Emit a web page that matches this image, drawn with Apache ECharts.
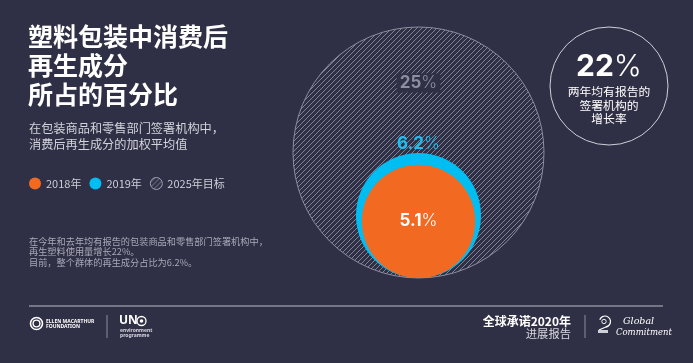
<!DOCTYPE html>
<html><head><meta charset="utf-8">
<script src="https://cdn.jsdelivr.net/npm/echarts@6/dist/echarts.min.js"></script>
<style>html,body{margin:0;padding:0;background:#2f2f45;}#c{width:693px;height:363px;}</style>
</head><body><div id="c"></div>
<script>
// ---- data ----
const seriesNames = ['2025年目标', '2019年', '2018年'];
const seriesValues = [25, 6.2, 5.1];
const legendNames = ['2018年', '2019年', '2025年目标'];
const growthValue = '22';
const growthText = '两年均有报告的\n签署机构的\n增长率';
const titleText = '塑料包装中消费后\n再生成分\n所占的百分比';
const subtitleText = '在包装商品和零售部门签署机构中，\n消费后再生成分的加权平均值';
const noteText = '在今年和去年均有报告的包装商品和零售部门签署机构中，\n再生塑料使用量增长22%。\n目前，整个群体的再生成分占比为6.2%。';

// ---- styles ----
const BG = '#2f2f45';
const CJK = '"Noto Sans CJK SC", "Noto Sans", sans-serif';
const NUM = 'Inter, Lato, "Noto Sans", sans-serif';

const pc = document.createElement('canvas');
pc.width = 5; pc.height = 5;
const g = pc.getContext('2d');
g.strokeStyle = 'rgba(150,150,172,0.8)';
g.lineWidth = 1;
g.beginPath();
g.moveTo(0, 5); g.lineTo(5, 0);
g.moveTo(-1, 1); g.lineTo(1, -1);
g.moveTo(4, 6); g.lineTo(6, 4);
g.stroke();
const hatch = { image: pc, repeat: 'repeat' };

const fills = [hatch, '#00bdf2', '#f26a22'];
const strokes = ['#8d8d9e', null, null];
const labelColors = ['#8e8e9f', '#1cc0f0', '#ffffff'];

function labelRich(v, color) {
  return {
    text: '{a|' + v + '}{b|%}',
    rich: {
      a: { fontFamily: NUM, fontWeight: 'bold', fontSize: 17, fill: color, color: color },
      b: { fontFamily: NUM, fontWeight: 300, fontSize: 17, fill: color, color: color }
    }
  };
}

const R_MAX = seriesValues[0];
function makeSeries(i) {
  return {
    type: 'custom',
    name: seriesNames[i],
    coordinateSystem: 'cartesian2d',
    itemStyle: { color: fills[i], borderColor: strokes[i] || fills[i], borderWidth: strokes[i] ? 1 : 0 },
    data: [[0, seriesValues[i]]],
    z: 2 + i,
    renderItem: function (params, api) {
      const v = api.value(1);
      const rr = Math.sqrt(v / R_MAX);
      const c = api.coord([0, rr]);
      const r = api.size([rr, rr])[0];
      let ly;
      if (i === 0) ly = c[1] - r * 0.554;
      else if (i === 1) ly = c[1] - r - 9;
      else ly = c[1];
      const lr = labelRich(v, labelColors[i]);
      const textStyle = Object.assign({
        x: c[0], y: ly, align: 'center', verticalAlign: 'middle'
      }, lr);
      if (i === 0) { textStyle.backgroundColor = BG; textStyle.padding = [1, 3]; }
      return {
        type: 'group',
        children: [
          {
            type: 'circle',
            shape: { cx: c[0], cy: c[1], r: r },
            style: strokes[i] ? { fill: fills[i], stroke: strokes[i], lineWidth: 1 } : { fill: fills[i] }
          },
          { type: 'text', style: textStyle, z2: 10 }
        ]
      };
    }
  };
}

const chart = echarts.init(document.getElementById('c'));
chart.setOption({
  backgroundColor: BG,
  animation: false,
  title: [
    { text: titleText, left: 28, top: 22, padding: 0,
      textStyle: { color: '#ffffff', fontSize: 25, fontWeight: 'bold', lineHeight: 29, fontFamily: CJK } },
    { text: subtitleText, left: 29, top: 120, padding: 0,
      textStyle: { color: '#d4d4dd', fontSize: 12.2, fontWeight: 'normal', lineHeight: 16, fontFamily: CJK } },
    { text: noteText, left: 29, top: 236, padding: 0,
      textStyle: { color: '#a9a9b8', fontSize: 9.2, fontWeight: 'normal', lineHeight: 10.5, fontFamily: CJK } }
  ],
  legend: {
    data: [
      { name: legendNames[0], icon: 'circle' },
      { name: legendNames[1], icon: 'circle' },
      { name: legendNames[2], icon: 'circle', itemStyle: { color: hatch, borderColor: '#a0a0b2', borderWidth: 1 } }
    ],
    left: 29, top: 177, padding: 0,
    itemWidth: 12, itemHeight: 12, itemGap: 8,
    selectedMode: false,
    textStyle: { color: '#cfcfd8', fontSize: 11, fontFamily: CJK }
  },
  grid: { left: 293, top: 27, width: 251, height: 251 },
  xAxis: { type: 'value', min: -1, max: 1, show: false },
  yAxis: { type: 'value', min: 0, max: 2, show: false },
  series: [makeSeries(0), makeSeries(1), makeSeries(2)],
  graphic: [
    { type: 'circle', shape: { cx: 609, cy: 86, r: 59 }, style: { fill: null, stroke: '#d0d0da', lineWidth: 1 } },
    { type: 'text', style: {
        x: 609, y: 67, align: 'center', verticalAlign: 'middle',
        text: '{a|' + growthValue + '}{b|%}',
        rich: {
          a: { fontFamily: NUM, fontWeight: 'bold', fontSize: 30, fill: '#fff', color: '#fff' },
          b: { fontFamily: NUM, fontWeight: 300, fontSize: 30, fill: '#fff', color: '#fff' }
        }
      } },
    { type: 'text', style: {
        x: 609, y: 105.5, align: 'center', verticalAlign: 'middle',
        text: growthText, fontSize: 11.8, lineHeight: 13.5, fontFamily: CJK, fill: '#ffffff'
      } },
    // footer rule
    { type: 'line', shape: { x1: 29, y1: 306, x2: 663, y2: 306 }, style: { stroke: '#8e8e9c', lineWidth: 1.5 } },
    // Ellen MacArthur logo
    { type: 'circle', shape: { cx: 36.5, cy: 323.5, r: 6 }, style: { fill: null, stroke: '#fff', lineWidth: 1.6 } },
    { type: 'circle', shape: { cx: 36.5, cy: 323.5, r: 3.4 }, style: { fill: null, stroke: '#fff', lineWidth: 1.4 } },
    { type: 'text', style: { x: 46, y: 321.5, text: 'ELLEN MACARTHUR', fontSize: 5, fontWeight: 'bold', fontFamily: 'Noto Sans, sans-serif', fill: '#fff', verticalAlign: 'middle' } },
    { type: 'text', style: { x: 46, y: 326.5, text: 'FOUNDATION', fontSize: 5, fontWeight: 'bold', fontFamily: 'Noto Sans, sans-serif', fill: '#fff', verticalAlign: 'middle' } },
    { type: 'line', shape: { x1: 107, y1: 315, x2: 107, y2: 338 }, style: { stroke: '#8e8e9c', lineWidth: 1 } },
    // UN environment logo
    { type: 'text', style: { x: 119, y: 321, text: 'UN', fontSize: 12, fontWeight: 'bold', fontFamily: 'Noto Sans, sans-serif', fill: '#fff', verticalAlign: 'middle' } },
    { type: 'circle', shape: { cx: 141.5, cy: 321, r: 4.5 }, style: { fill: null, stroke: '#fff', lineWidth: 1.3 } },
    { type: 'circle', shape: { cx: 141.5, cy: 321, r: 1.8 }, style: { fill: '#fff' } },
    { type: 'text', style: { x: 120, y: 330.5, text: 'environment', fontSize: 5, fontWeight: 'bold', fontFamily: 'Noto Sans, sans-serif', fill: '#d8d8e0', verticalAlign: 'middle' } },
    { type: 'text', style: { x: 120, y: 335.5, text: 'programme', fontSize: 5, fontWeight: 'bold', fontFamily: 'Noto Sans, sans-serif', fill: '#d8d8e0', verticalAlign: 'middle' } },
    // right footer
    { type: 'text', style: { x: 571, y: 321, text: '全球承诺2020年', align: 'right', verticalAlign: 'middle', fontSize: 12, fontWeight: 'bold', fontFamily: CJK, fill: '#fff' } },
    { type: 'text', style: { x: 571, y: 334, text: '进展报告', align: 'right', verticalAlign: 'middle', fontSize: 11.3, fontFamily: CJK, fill: '#d8d8e0' } },
    { type: 'line', shape: { x1: 585, y1: 315, x2: 585, y2: 338 }, style: { stroke: '#8e8e9c', lineWidth: 1 } },
    // Global Commitment logo
    { type: 'arc', shape: { cx: 605, cy: 321.5, r: 5.5, startAngle: -Math.PI * 0.9, endAngle: Math.PI * 0.45 }, style: { fill: null, stroke: '#fff', lineWidth: 1.2 } },
    { type: 'circle', shape: { cx: 604, cy: 321.5, r: 2.2 }, style: { fill: null, stroke: '#fff', lineWidth: 0.9 } },
    { type: 'line', shape: { x1: 607, y1: 326.5, x2: 599, y2: 330 }, style: { stroke: '#fff', lineWidth: 1.2 } },
    { type: 'rect', shape: { x: 598, y: 330, width: 10, height: 3 }, style: { fill: '#d0d0da' } },
    { type: 'text', style: { x: 623, y: 322, text: 'Global', fontSize: 9.5, fontStyle: 'italic', fontFamily: '"DejaVu Serif", serif', fill: '#fff', verticalAlign: 'middle' } },
    { type: 'text', style: { x: 616, y: 332.5, text: 'Commitment', fontSize: 8.5, fontStyle: 'italic', fontFamily: '"DejaVu Serif", serif', fill: '#fff', verticalAlign: 'middle' } }
  ]
});
</script>
</body></html>
